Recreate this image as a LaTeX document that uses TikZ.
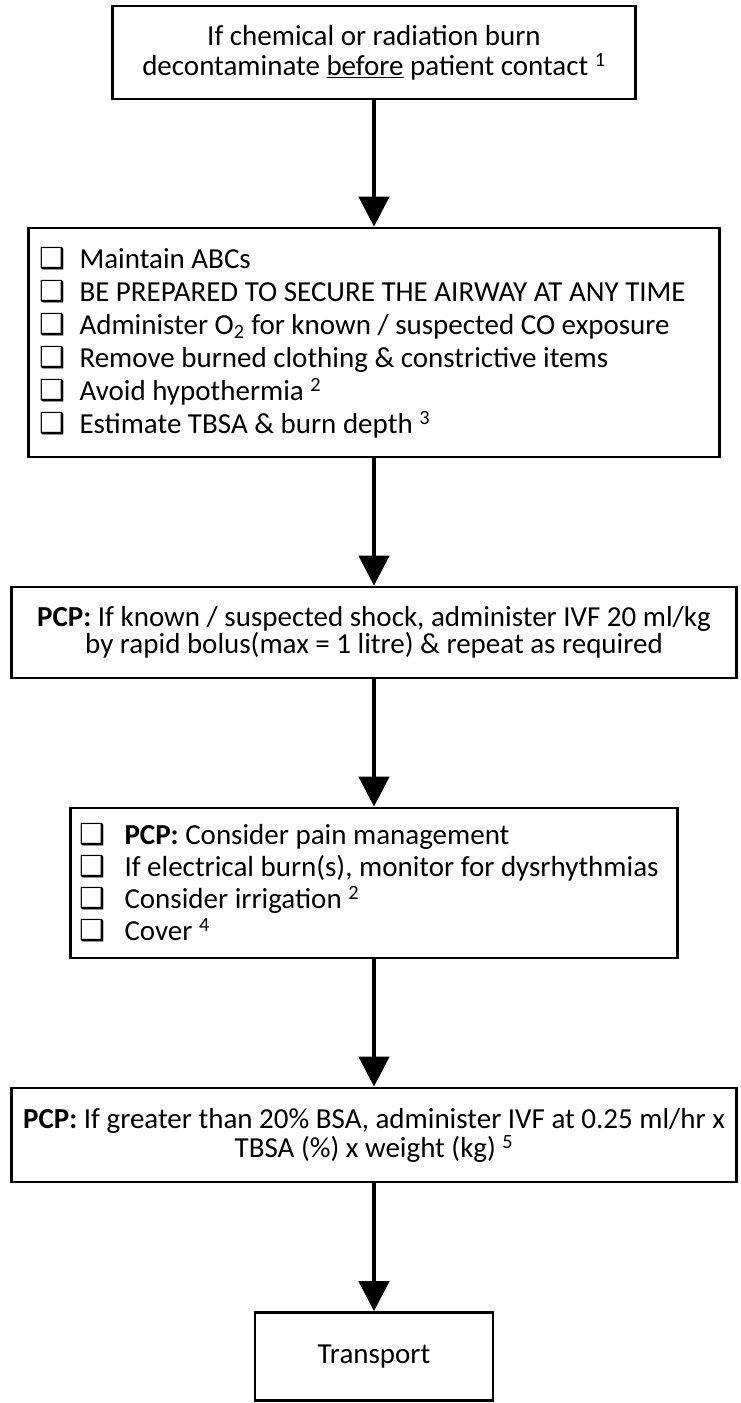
\documentclass[tikz,border=0pt]{standalone}
\usepackage{fontspec}
\setmainfont{Carlito}
\newfontfamily\tickfont{DejaVu Sans}
\usetikzlibrary{arrows.meta}
\newcommand{\chk}{{\tickfont\char"2751}}
\newcommand{\checkline}[2]{\mbox{\makebox[#1][l]{\chk}#2}}

\begin{document}
\begin{tikzpicture}[x=1pt,y=-1pt,
  stepbox/.style={draw,line width=2.7pt,inner sep=0pt,align=center},
  listbox/.style={draw,line width=2.7pt,inner ysep=0pt,align=flush left},
  flow/.style={line width=4.5pt,-{Triangle[width=30pt,length=30pt]}}]
  \useasboundingbox (0,0) rectangle (740,1403);
  % boxes, top to bottom
  \node (decon) [stepbox,minimum width=523pt,minimum height=93pt,
    font=\fontsize{29}{30}\selectfont] at (374,52.5)
    {If chemical or radiation burn\\decontaminate \underline{before} patient contact \textsuperscript{1}};
  \node (abc) [listbox,inner xsep=11pt,text width=669pt,minimum height=229pt,
    font=\fontsize{29}{33}\selectfont] at (374,342.5)
    {\checkline{40pt}{Maintain ABCs}\\
     \checkline{40pt}{BE PREPARED TO SECURE THE AIRWAY AT ANY TIME}\\
     \checkline{40pt}{Administer O\textsubscript{2} for known / suspected CO exposure}\\
     \checkline{40pt}{Remove burned clothing \& constrictive items}\\
     \checkline{40pt}{Avoid hypothermia \textsuperscript{2}}\\
     \checkline{40pt}{Estimate TBSA \& burn depth \textsuperscript{3}}};
  \node (shock) [stepbox,minimum width=725pt,minimum height=91pt,
    font=\fontsize{29}{27}\selectfont] at (374,632.5)
    {\textbf{PCP:} If known / suspected shock, administer IVF 20 ml/kg\\by rapid bolus(max = 1 litre) \& repeat as required};
  \node (pain) [listbox,inner xsep=9pt,text width=589pt,minimum height=150pt,
    font=\fontsize{29}{32}\selectfont] at (374,883)
    {\checkline{45pt}{\textbf{PCP:} Consider pain management}\\
     \checkline{45pt}{If electrical burn(s), monitor for dysrhythmias}\\
     \checkline{45pt}{Consider irrigation \textsuperscript{2}}\\
     \checkline{45pt}{Cover \textsuperscript{4}}};
  \node (ivf) [stepbox,minimum width=725pt,minimum height=94pt,
    font=\fontsize{29}{29}\selectfont] at (374,1135)
    {\textbf{PCP:} If greater than 20\% BSA, administer IVF at 0.25 ml/hr x\\TBSA (\%) x weight (kg) \textsuperscript{5}};
  \node (transport) [stepbox,minimum width=238pt,minimum height=88pt,
    font=\fontsize{29}{33}\selectfont] at (374,1356.5) {Transport};
  % arrows
  \draw[flow] (decon.south) -- (abc.north);
  \draw[flow] (abc.south) -- (shock.north);
  \draw[flow] (shock.south) -- (pain.north);
  \draw[flow] (pain.south) -- (ivf.north);
  \draw[flow] (ivf.south) -- (transport.north);
\end{tikzpicture}
\end{document}
